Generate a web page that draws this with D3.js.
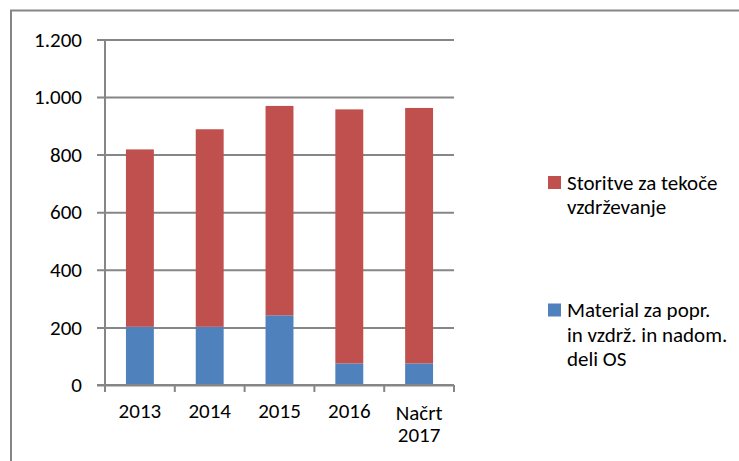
<!DOCTYPE html>
<html>
<head>
<meta charset="utf-8">
<script src="https://cdn.jsdelivr.net/npm/d3@7"></script>
<style>
  body { margin: 0; background: #fff; }
</style>
</head>
<body>
<div id="chart"></div>
<script>
// Chart data
var categories = ['2013', '2014', '2015', '2016', 'Načrt\n2017'];
var material = [202, 202, 242, 75, 75];
var storitve = [616, 686, 727, 882, 887];
var yTicks = [0, 200, 400, 600, 800, 1000, 1200];
var seriesNames = ['Storitve za tekoče\nvzdrževanje', 'Material za popr.\nin vzdrž. in nadom.\ndeli OS'];
var seriesColors = ['#C0504D', '#4F81BD'];

var width = 739, height = 461;
var margin = { left: 105, top: 39.4, right: 285, bottom: 76 };
var chartWidth = width - margin.left - margin.right;
var chartHeight = height - margin.top - margin.bottom;
var gridColor = '#868686';
var fontFamily = 'Carlito, Calibri, Lato, sans-serif';
var fontSize = '21px';

var svg = d3.select('#chart').append('svg')
    .attr('width', width)
    .attr('height', height)
    .style('font-family', fontFamily)
    .style('font-size', fontSize);

// Outer chart frame (cropped at right and bottom)
svg.append('path')
    .attr('d', 'M11,' + height + 'V10.5H' + width)
    .attr('fill', 'none')
    .attr('stroke', gridColor)
    .attr('stroke-width', 2);

var g = svg.append('g')
    .attr('transform', 'translate(' + margin.left + ',' + margin.top + ')');

// Scales
var x = d3.scaleBand().domain(categories).range([0, chartWidth])
    .paddingInner(0.6).paddingOuter(0.3);
var y = d3.scaleLinear().domain([0, 1200]).range([chartHeight, 0]);

// Slovene number format: 1.200
var locale = d3.formatLocale({ decimal: ',', thousands: '.', grouping: [3], currency: ['', ' €'] });

// Y axis with gridlines
var yAxisG = g.append('g')
    .call(d3.axisLeft(y).tickValues(yTicks).tickSize(-chartWidth).tickPadding(23).tickFormat(locale.format(',')));
yAxisG.attr('font-size', null).attr('font-family', null);
yAxisG.select('.domain').remove();
yAxisG.selectAll('.tick line')
    .attr('x1', -8)
    .attr('x2', chartWidth)
    .attr('stroke', gridColor)
    .attr('stroke-width', 2);
yAxisG.selectAll('.tick text')
    .style('font-size', fontSize)
    .style('font-family', fontFamily);

// Vertical axis line
g.append('line')
    .attr('x1', 0).attr('x2', 0)
    .attr('y1', 0).attr('y2', chartHeight + 7)
    .attr('stroke', gridColor)
    .attr('stroke-width', 2);

// Stacked bars
var rows = categories.map(function (c, i) {
    return { cat: c, material: material[i], storitve: storitve[i] };
});
var stack = d3.stack().keys(['material', 'storitve'])(rows);
var colorFor = { material: seriesColors[1], storitve: seriesColors[0] };

g.selectAll('.series')
    .data(stack)
    .enter().append('g')
    .attr('fill', function (d) { return colorFor[d.key]; })
    .selectAll('rect')
    .data(function (d) { return d; })
    .enter().append('rect')
    .attr('x', function (d) { return x(d.data.cat); })
    .attr('width', x.bandwidth())
    .attr('y', function (d) { return y(d[1]); })
    .attr('height', function (d) { return y(d[0]) - y(d[1]); });

// X axis: line, tick marks at category boundaries, labels
var xAxisG = g.append('g')
    .attr('transform', 'translate(0,' + chartHeight + ')')
    .call(d3.axisBottom(x).tickSize(0).tickPadding(0));
xAxisG.attr('font-size', null).attr('font-family', null);
xAxisG.select('.domain')
    .attr('d', 'M-8,0H' + chartWidth)
    .attr('stroke', gridColor)
    .attr('stroke-width', 2);
xAxisG.selectAll('.tick text').remove();
xAxisG.selectAll('.tick').each(function (d) {
    var lines = d.split('\n');
    var t = d3.select(this).append('text')
        .attr('text-anchor', 'middle')
        .attr('fill', '#000')
        .style('font-size', fontSize)
        .style('font-family', fontFamily)
        .attr('y', lines.length > 1 ? 34.5 : 33);
    lines.forEach(function (l, i) {
        t.append('tspan').attr('x', 0).attr('dy', i === 0 ? 0 : 22).text(l);
    });
});

var step = x.step();
var boundaries = categories.map(function (c) { return x(c) - step * x.paddingInner() / 2; });
boundaries.push(chartWidth);
xAxisG.selectAll('.bound')
    .data(boundaries)
    .enter().append('line')
    .attr('x1', function (d) { return d; })
    .attr('x2', function (d) { return d; })
    .attr('y1', 0).attr('y2', 7)
    .attr('stroke', gridColor)
    .attr('stroke-width', 2);

// Legend
var legend = svg.append('g');
var legendTops = [176, 303.5];
seriesNames.forEach(function (name, i) {
    var lg = legend.append('g').attr('transform', 'translate(548,' + legendTops[i] + ')');
    lg.append('rect')
        .attr('width', 13).attr('height', 13)
        .attr('fill', seriesColors[i]);
    var t = lg.append('text')
        .attr('x', 19).attr('y', 13.5)
        .style('font-size', fontSize)
        .style('font-family', fontFamily);
    name.split('\n').forEach(function (l, j) {
        t.append('tspan').attr('x', 19).attr('dy', j === 0 ? 0 : 24.5).text(l);
    });
});
</script>
</body>
</html>
